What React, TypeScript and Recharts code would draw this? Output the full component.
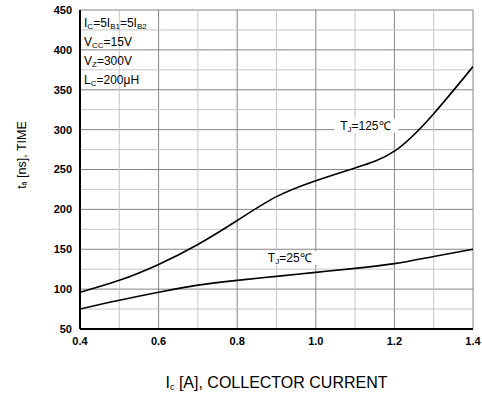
import React from "react"
import { LineChart, Line, XAxis, YAxis, CartesianGrid, ReferenceDot } from "recharts"

const FONT = "'Liberation Sans', Arial, sans-serif"

// axis ticks
const xTicks = [0.4, 0.6, 0.8, 1.0, 1.2, 1.4]
const xMinorTicks = [0.5, 0.7, 0.9, 1.1, 1.3]
const yTicks = [50, 100, 150, 200, 250, 300, 350, 400, 450]
const yMinorTicks = [75, 125, 175, 225, 275, 325, 375, 425]

// Tj = 125C curve
const hotCurrent = [0.4, 0.5, 0.6, 0.7, 0.8, 0.9, 1.0, 1.1, 1.2, 1.3, 1.4]
const hotTime = [96, 111, 131, 156, 186, 216, 236, 252, 273, 320, 379]

// Tj = 25C curve
const coldCurrent = [0.4, 0.5, 0.6, 0.7, 0.8, 0.9, 1.0, 1.1, 1.2, 1.3, 1.4]
const coldTime = [75, 86, 96, 105, 111, 116, 121, 126, 132, 141, 150]

const hotData = hotCurrent.map((x, i) => ({ x, t: hotTime[i] }))
const coldData = coldCurrent.map((x, i) => ({ x, t: coldTime[i] }))

// minor grid segments, drawn through the same scales
const hLine = (y: number) => [{ x: 0.4, t: y }, { x: 1.4, t: y }]
const vLine = (x: number) => [{ x, t: 50 }, { x, t: 450 }]

const MAJOR = "#84848a"
const MINOR = "#c6c6cc"

const Conditions = ({ viewBox }: any) => {
  const x = viewBox.x + 4
  const y = viewBox.y
  return (
    <g fontFamily={FONT} fontSize={12} fill="#000">
      <text x={x} y={y + 17}>
        I<tspan fontSize={8} dy={2}>C</tspan>
        <tspan dy={-2}>=5I</tspan>
        <tspan fontSize={8} dy={2}>B1</tspan>
        <tspan dy={-2}>=5I</tspan>
        <tspan fontSize={8} dy={2}>B2</tspan>
      </text>
      <text x={x} y={y + 36}>
        V<tspan fontSize={8} dy={2}>CC</tspan>
        <tspan dy={-2}>=15V</tspan>
      </text>
      <text x={x} y={y + 55}>
        V<tspan fontSize={8} dy={2}>Z</tspan>
        <tspan dy={-2}>=300V</tspan>
      </text>
      <text x={x} y={y + 74}>
        L<tspan fontSize={8} dy={2}>C</tspan>
        <tspan dy={-2}>=200μH</tspan>
      </text>
    </g>
  )
}

const TempLabel = ({ viewBox, temp, boxWidth }: any) => {
  const { x, y } = viewBox
  return (
    <g>
      <rect x={x - 6} y={y - 7} width={boxWidth} height={14} fill="#fff" />
      <text x={x} y={y + 4} fontFamily={FONT} fontSize={12} fill="#000">
        T<tspan fontSize={8} dy={2}>J</tspan>
        <tspan dy={-2}>={temp}℃</tspan>
      </text>
    </g>
  )
}

const XTitle = ({ viewBox }: any) => (
  <text
    x={viewBox.x + viewBox.width / 2}
    y={viewBox.y + 59}
    textAnchor="middle"
    fontFamily={FONT}
    fontSize={16}
    fill="#000"
  >
    I<tspan fontSize={9} dy={2}>c</tspan>
    <tspan dy={-2}> [A], COLLECTOR CURRENT</tspan>
  </text>
)

const YTitle = ({ viewBox }: any) => {
  const cx = viewBox.x + 22
  const cy = viewBox.y + 145
  return (
    <text
      x={cx}
      y={cy}
      transform={`rotate(-90 ${cx} ${cy})`}
      textAnchor="middle"
      dominantBaseline="central"
      fontFamily={FONT}
      fontSize={12.5}
      fill="#000"
    >
      t<tspan fontSize={8} dy={2}>fi</tspan>
      <tspan dy={-2}> [ns], TIME</tspan>
    </text>
  )
}

const tickStyle = { fontFamily: FONT, fontSize: 11, fontWeight: "bold", fill: "#000" }

export default function App() {
  return (
    <div style={{ position: "absolute", left: 0, top: 0 }}>
      <LineChart
        width={482}
        height={397}
        margin={{ top: 10, right: 9, left: 0, bottom: 0 }}
      >
        <CartesianGrid stroke={MAJOR} />
        {yMinorTicks.map((v) => (
          <Line key={"hm" + v} data={hLine(v)} dataKey="t" stroke={MINOR} dot={false} isAnimationActive={false} />
        ))}
        {xMinorTicks.map((v) => (
          <Line key={"vm" + v} data={vLine(v)} dataKey="t" stroke={MINOR} dot={false} isAnimationActive={false} />
        ))}
        <XAxis
          type="number"
          dataKey="x"
          domain={[0.4, 1.4]}
          ticks={xTicks}
          tickFormatter={(v: number) => v.toFixed(1)}
          height={68}
          tick={tickStyle}
          tickLine={false}
          axisLine={{ stroke: "#000", strokeWidth: 2 }}
          allowDataOverflow
          label={<XTitle />}
        />
        <XAxis
          xAxisId="top"
          orientation="top"
          type="number"
          dataKey="x"
          domain={[0.4, 1.4]}
          height={0}
          tick={false}
          tickLine={false}
          axisLine={{ stroke: "#000", strokeWidth: 1.5 }}
          allowDataOverflow
        />
        <YAxis
          type="number"
          domain={[50, 450]}
          ticks={yTicks}
          width={80}
          tick={tickStyle}
          tickLine={false}
          axisLine={{ stroke: "#000", strokeWidth: 2 }}
          allowDataOverflow
          label={<YTitle />}
        />
        <YAxis
          yAxisId="right"
          orientation="right"
          type="number"
          domain={[50, 450]}
          width={0}
          tick={false}
          tickLine={false}
          axisLine={{ stroke: "#000", strokeWidth: 1.5 }}
          allowDataOverflow
        />
        <Line
          data={hotData}
          dataKey="t"
          type="natural"
          stroke="#000"
          strokeWidth={1.6}
          dot={false}
          isAnimationActive={false}
        />
        <Line
          data={coldData}
          dataKey="t"
          type="natural"
          stroke="#000"
          strokeWidth={1.6}
          dot={false}
          isAnimationActive={false}
        />
        <ReferenceDot
          x={1.062}
          y={305}
          r={0}
          ifOverflow="visible"
          label={<TempLabel temp={"125"} boxWidth={64} />}
        />
        <ReferenceDot
          x={0.878}
          y={139}
          r={0}
          ifOverflow="visible"
          label={<TempLabel temp={"25"} boxWidth={56} />}
        />
        <ReferenceDot
          x={0.4}
          y={450}
          r={0}
          ifOverflow="visible"
          label={<Conditions />}
        />
      </LineChart>
    </div>
  )
}
